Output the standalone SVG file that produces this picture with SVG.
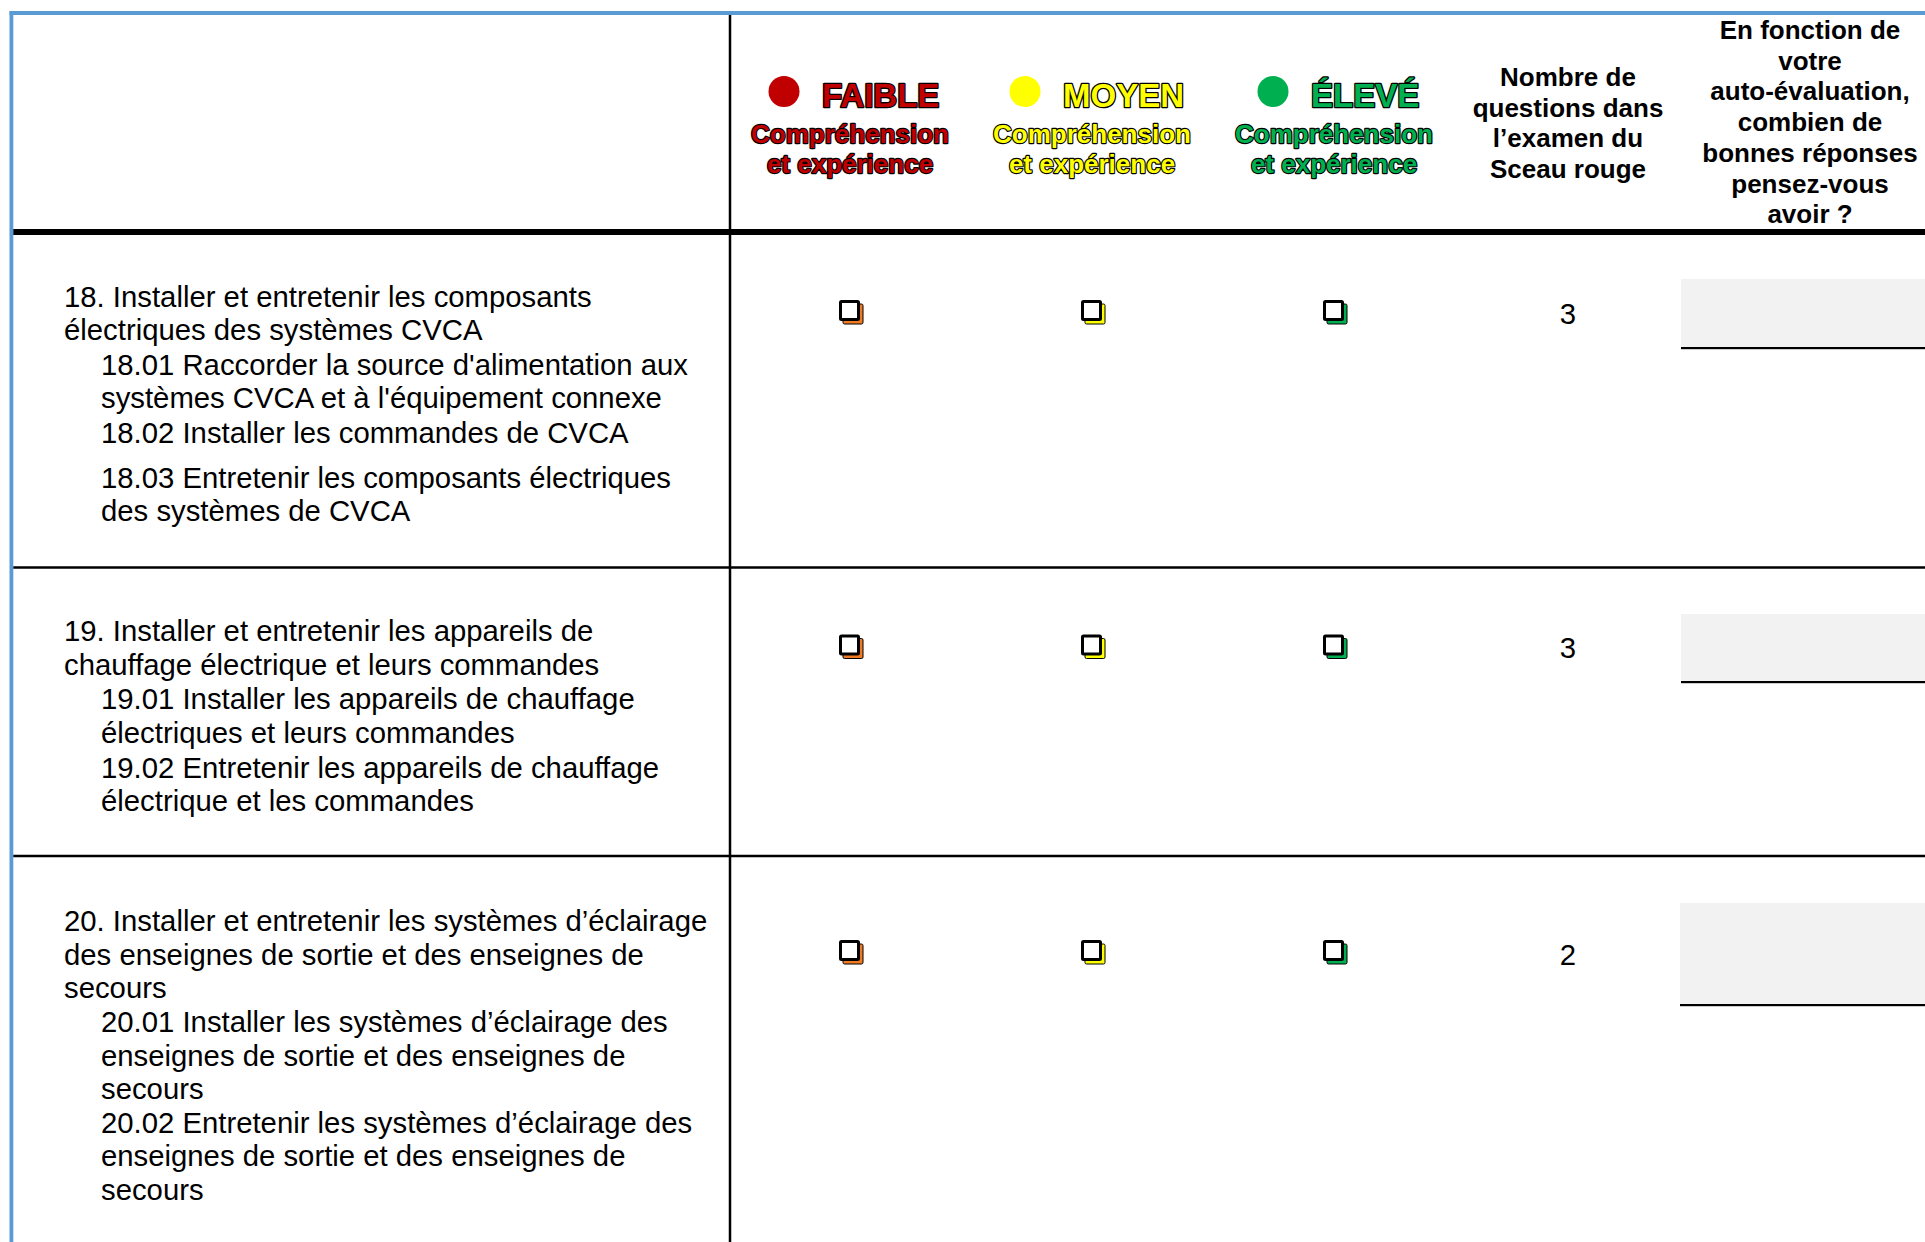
<svg xmlns="http://www.w3.org/2000/svg" xmlns:xlink="http://www.w3.org/1999/xlink" width="1925" height="1242" viewBox="0 0 1925 1242">
<style>
.body{font-family:"Liberation Sans",Arial,sans-serif;font-size:29.3px;fill:#000}
.hdr{font-family:"Liberation Sans",Arial,sans-serif;font-size:26px;font-weight:bold;fill:#000;text-anchor:middle}
.lvl{font-family:"Liberation Sans",Arial,sans-serif;font-weight:bold;stroke:#000;stroke-linejoin:round;paint-order:stroke}
.big{font-size:33px;stroke-width:2.6}
.sub{font-size:26px;stroke-width:2.3;text-anchor:middle}
.num{font-family:"Liberation Sans",Arial,sans-serif;font-size:29.3px;fill:#000;text-anchor:middle}
.gray{fill:#F2F2F2}
.ln{stroke:#000;stroke-width:2.5}
</style>
<defs>
<g id="cbox">
<rect x="4" y="4" width="20" height="20" rx="1.5" stroke="#000" stroke-width="1"/>
<rect x="1.5" y="1.5" width="18" height="18" rx="1" fill="#fff" stroke="#000" stroke-width="3"/>
</g>
</defs>
<rect width="1925" height="1242" fill="#fff"/>

<g id="grid">
<rect x="9.5" y="11" width="1915.5" height="4" fill="#5B9BD5"/>
<rect x="9.5" y="11" width="3.8" height="1231" fill="#5B9BD5"/>
<line class="ln" x1="730" y1="15" x2="730" y2="1242"/>
<rect x="13.3" y="229" width="1911.7" height="6" fill="#000"/>
<line class="ln" x1="13.3" y1="567.5" x2="1925" y2="567.5"/>
<line class="ln" x1="13.3" y1="856" x2="1925" y2="856"/>
</g>

<g id="header">
<g id="lvl-faible">
<circle cx="784" cy="91.5" r="15.5" fill="#C00000"/>
<text class="lvl big" x="822" y="106.5" fill="#C00000">FAIBLE</text>
<text class="lvl sub" x="850" y="143" fill="#C00000">Compréhension</text>
<text class="lvl sub" x="850" y="172.5" fill="#C00000">et expérience</text>
</g>
<g id="lvl-moyen">
<circle cx="1025" cy="91.5" r="15.5" fill="#FFFF00"/>
<text class="lvl big" x="1063" y="106.5" fill="#FFFF00">MOYEN</text>
<text class="lvl sub" x="1092" y="143" fill="#FFFF00">Compréhension</text>
<text class="lvl sub" x="1092" y="172.5" fill="#FFFF00">et expérience</text>
</g>
<g id="lvl-eleve">
<circle cx="1273" cy="91.5" r="15.5" fill="#00B050"/>
<text class="lvl big" x="1311" y="106.5" fill="#00B050">ÉLEVÉ</text>
<text class="lvl sub" x="1334" y="143" fill="#00B050">Compréhension</text>
<text class="lvl sub" x="1334" y="172.5" fill="#00B050">et expérience</text>
</g>
<g id="hdr-nombre">
<text class="hdr" x="1568" y="86">Nombre de</text>
<text class="hdr" x="1568" y="116.7">questions dans</text>
<text class="hdr" x="1568" y="147.4">l’examen du</text>
<text class="hdr" x="1568" y="178">Sceau rouge</text>
</g>
<g id="hdr-auto">
<text class="hdr" x="1810" y="39">En fonction de</text>
<text class="hdr" x="1810" y="69.7">votre</text>
<text class="hdr" x="1810" y="100.4">auto-évaluation,</text>
<text class="hdr" x="1810" y="131">combien de</text>
<text class="hdr" x="1810" y="161.8">bonnes réponses</text>
<text class="hdr" x="1810" y="192.5">pensez-vous</text>
<text class="hdr" x="1810" y="223">avoir ?</text>
</g>
</g>

<g id="row-18">
<text class="body" x="64" y="307">18. Installer et entretenir les composants</text>
<text class="body" x="64" y="340">électriques des systèmes CVCA</text>
<text class="body" x="101" y="375">18.01 Raccorder la source d'alimentation aux</text>
<text class="body" x="101" y="408">systèmes CVCA et à l'équipement connexe</text>
<text class="body" x="101" y="443">18.02 Installer les commandes de CVCA</text>
<text class="body" x="101" y="488">18.03 Entretenir les composants électriques</text>
<text class="body" x="101" y="521">des systèmes de CVCA</text>
<use xlink:href="#cbox" x="839" y="300" fill="#F07A22"/>
<use xlink:href="#cbox" x="1081" y="300" fill="#FFFF00"/>
<use xlink:href="#cbox" x="1323" y="300" fill="#00B050"/>
<text class="num" x="1568" y="323.5">3</text>
<rect class="gray" x="1681" y="279" width="244" height="68"/>
<rect x="1681" y="347" width="244" height="2.2" fill="#000"/>
</g>

<g id="row-19">
<text class="body" x="64" y="641">19. Installer et entretenir les appareils de</text>
<text class="body" x="64" y="675">chauffage électrique et leurs commandes</text>
<text class="body" x="101" y="709">19.01 Installer les appareils de chauffage</text>
<text class="body" x="101" y="743">électriques et leurs commandes</text>
<text class="body" x="101" y="778">19.02 Entretenir les appareils de chauffage</text>
<text class="body" x="101" y="811">électrique et les commandes</text>
<use xlink:href="#cbox" x="839" y="634.5" fill="#F07A22"/>
<use xlink:href="#cbox" x="1081" y="634.5" fill="#FFFF00"/>
<use xlink:href="#cbox" x="1323" y="634.5" fill="#00B050"/>
<text class="num" x="1568" y="657.5">3</text>
<rect class="gray" x="1681" y="614" width="244" height="67"/>
<rect x="1681" y="681" width="244" height="2.2" fill="#000"/>
</g>

<g id="row-20">
<text class="body" x="64" y="931">20. Installer et entretenir les systèmes d’éclairage</text>
<text class="body" x="64" y="964.6">des enseignes de sortie et des enseignes de</text>
<text class="body" x="64" y="998">secours</text>
<text class="body" x="101" y="1032">20.01 Installer les systèmes d’éclairage des</text>
<text class="body" x="101" y="1065.5">enseignes de sortie et des enseignes de</text>
<text class="body" x="101" y="1099">secours</text>
<text class="body" x="101" y="1132.5">20.02 Entretenir les systèmes d’éclairage des</text>
<text class="body" x="101" y="1166">enseignes de sortie et des enseignes de</text>
<text class="body" x="101" y="1200">secours</text>
<use xlink:href="#cbox" x="839" y="940" fill="#F07A22"/>
<use xlink:href="#cbox" x="1081" y="940" fill="#FFFF00"/>
<use xlink:href="#cbox" x="1323" y="940" fill="#00B050"/>
<text class="num" x="1568" y="965">2</text>
<rect class="gray" x="1680" y="903" width="245" height="101"/>
<rect x="1680" y="1004" width="245" height="2.2" fill="#000"/>
</g>
</svg>
